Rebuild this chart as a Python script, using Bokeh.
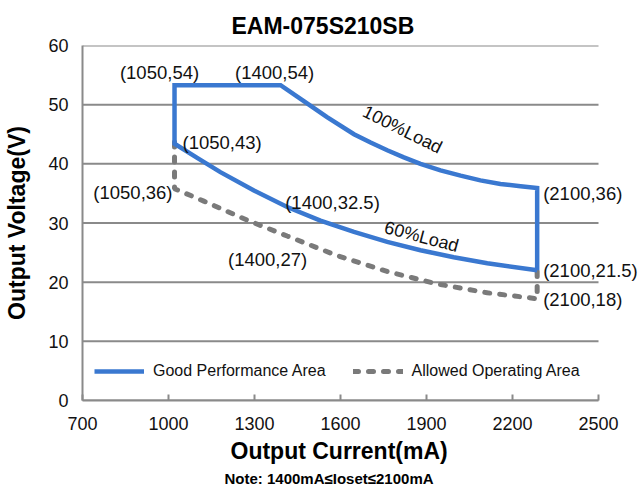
from bokeh.plotting import figure
from bokeh.models import Range1d, Legend, LegendItem, Title, FixedTicker, ColumnDataSource
from bokeh.core.properties import value
from bokeh.embed import file_html
from bokeh.resources import INLINE

# ---- data (drawn positions) ----
x_ticks = [700, 1000, 1300, 1600, 1900, 2200, 2500]
y_ticks = [0, 10, 20, 30, 40, 50, 60]

load60_i = [1021, 1100, 1181, 1298, 1414, 1530, 1647, 1763, 1879, 1995, 2112, 2286]
load60_v = [43.4, 41.0, 38.6, 35.5, 32.7, 30.4, 28.5, 26.8, 25.4, 24.2, 23.2, 22.0]
load100_i = [1391, 1472, 1553, 1647, 1705, 1763, 1821, 1879, 1949, 2019, 2088, 2158, 2228, 2286]
load100_v = [53.3, 50.6, 47.9, 45.0, 43.6, 42.3, 41.1, 40.0, 38.9, 38.0, 37.2, 36.6, 36.2, 35.9]
allowed_i = [1021, 1021, 1123, 1274, 1414, 1588, 1763, 1937, 2112, 2286, 2286]
allowed_v = [43.7, 35.8, 33.7, 30.5, 27.8, 24.5, 21.8, 19.7, 18.2, 17.2, 22.0]

point_labels = ["(1050,54)", "(1400,54)", "(1050,43)", "(1050,36)", "(1400,32.5)",
                "(1400,27)", "(2100,36)", "(2100,21.5)", "(2100,18)"]
curve_labels = ["100%Load", "60%Load"]

# ---- build paths ----
good_i = list(reversed(load60_i)) + [load60_i[0]] + load100_i + [load100_i[-1]]
good_v = list(reversed(load60_v)) + [load100_v[0]] + load100_v + [load60_v[-1]]

anchor_i = [load60_i[0], load100_i[0], load60_i[0], allowed_i[1], load60_i[4],
            allowed_i[4], load100_i[-1], load60_i[-1], allowed_i[-2]]
anchor_v = [load100_v[0], load100_v[0], load60_v[0], allowed_v[1], load60_v[4],
            allowed_v[4], load100_v[-1], load60_v[-1], allowed_v[-2]]
lab_dx = [-15, -6, 8, -2, -2, 20, 6, 6, 6]
lab_dy = [-12.5, -13, -1.5, 4, -5, 23, 5, 0, 1]   # screen px, down is positive
lab_align = ["center", "center", "left", "right", "left", "right", "left", "left", "left"]

FONT = "Liberation Sans"
GRID = "#8a8a8a"
BLUE = "#3a78d0"
GRAY = "#7a7a7a"

# frame spans 82..638 px; axis/grid limited to 700..2500 mA (598 px)
p = figure(width=639, height=488, output_backend="svg", toolbar_location=None,
           x_range=Range1d(700, 2639.5), y_range=Range1d(0, 60),
           min_border_left=82, min_border_right=1, min_border_top=45, min_border_bottom=88)

p.title.text = "EAM-075S210SB"
p.title.text_font = FONT
p.title.text_font_size = "23px"
p.title.text_font_style = "bold"
p.title.align = "left"
p.title.offset = 149
p.title.standoff = 14
p.title.text_color = "#000000"

p.outline_line_color = None
p.background_fill_color = "white"
p.xgrid.visible = False
p.ygrid.visible = False
n = len(y_ticks)
p.segment(x0=[x_ticks[0]] * n, y0=y_ticks, x1=[x_ticks[-1]] * n, y1=y_ticks,
          line_color=GRID, line_width=2)

p.xaxis.ticker = FixedTicker(ticks=x_ticks)
p.yaxis.ticker = FixedTicker(ticks=y_ticks)
p.xaxis.bounds = (x_ticks[0], x_ticks[-1])
for ax in (p.xaxis, p.yaxis):
    ax.axis_line_color = GRID
    ax.axis_line_width = 2
    ax.major_tick_line_color = GRID
    ax.major_tick_line_width = 2
    ax.minor_tick_line_color = None
    ax.major_label_text_font = FONT
    ax.major_label_text_font_size = "18px"
    ax.major_label_text_color = "#111111"
    ax.axis_label_text_font = FONT
    ax.axis_label_text_font_size = "23px"
    ax.axis_label_text_font_style = "bold"
    ax.axis_label_text_color = "#000000"
p.xaxis.major_tick_in = 6
p.xaxis.major_tick_out = 0
p.yaxis.major_tick_in = 0
p.yaxis.major_tick_out = 0
p.xaxis.major_label_standoff = 16
p.yaxis.major_label_standoff = 14
p.yaxis.axis_label = "Output Voltage(V)"
p.yaxis.axis_label_standoff = 15

r_allowed = p.line(allowed_i, allowed_v, line_color=GRAY, line_width=5,
                   line_dash="5 10", line_cap="round")
r_good = p.line(good_i, good_v, line_color=BLUE, line_width=4.5, line_join="miter")

src = ColumnDataSource(dict(x=anchor_i, y=anchor_v, t=point_labels, dx=lab_dx, dy=lab_dy, al=lab_align))
p.text(x="x", y="y", text="t", x_offset="dx", y_offset="dy", text_align="al", source=src,
       text_baseline="middle", text_font=value(FONT), text_font_size="18.5px", text_color="#111111")

p.text(x=[1816, 1883], y=[45.8, 27.7], text=curve_labels, angle=[-0.46, -0.26],
       text_align="center", text_baseline="middle", text_font=value(FONT),
       text_font_size="18px", text_color="#111111")

legend = Legend(items=[LegendItem(label="Good Performance Area", renderers=[r_good]),
                       LegendItem(label="Allowed Operating Area", renderers=[r_allowed])],
                orientation="horizontal", location=(12, 19), glyph_width=50, glyph_height=20,
                label_standoff=9, spacing=27, padding=0, margin=0,
                border_line_color=None, background_fill_alpha=0,
                label_text_font=FONT, label_text_font_size="16px", label_text_color="#111111")
p.add_layout(legend)

xlabel = Title(text="Output Current(mA)", align="left", offset=148, standoff=7,
               text_font=FONT, text_font_size="23px", text_font_style="bold", text_color="#000000")
p.add_layout(xlabel, "below")

note = Title(text="Note:  1400mA\u2264Ioset\u22642100mA", align="left", offset=142, standoff=1,
             text_font=FONT, text_font_size="15px", text_font_style="bold", text_color="#000000")
p.add_layout(note, "below")

open("out.html", "w").write(file_html(p, INLINE))
